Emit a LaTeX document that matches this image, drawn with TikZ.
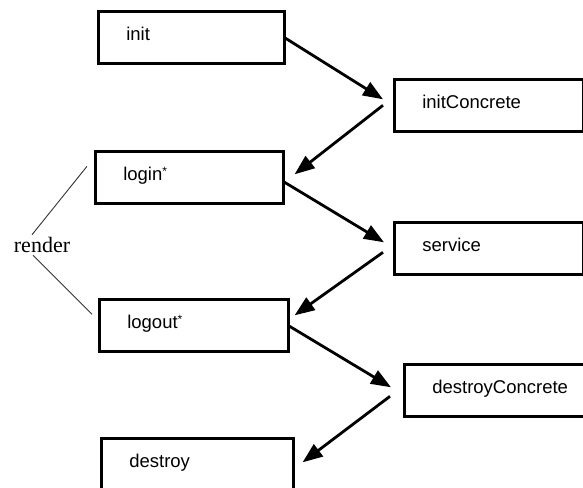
\documentclass[tikz,border=0pt]{standalone}
\usepackage{fontspec}
\setmainfont{Liberation Sans}
\newfontfamily\labelserif{Liberation Serif}
\usetikzlibrary{arrows.meta,calc}
\newcommand{\smallstar}{\raisebox{5pt}{\fontsize{12}{12}\selectfont*}}
\begin{document}
\begin{tikzpicture}[x=1pt,y=-1pt,
  box/.style={draw, line width=2.6pt, anchor=north west, align=left,
    inner xsep=28pt, inner ysep=0pt, minimum height=52pt,
    text height=12pt, text depth=6pt,
    font=\fontsize{18.5}{18.5}\selectfont},
  flow/.style={line width=2.8pt, -{Triangle[length=20pt,width=15pt]}},
  brace/.style={line width=0.9pt, draw=black!80}]
\useasboundingbox (0,0) rectangle (583,487);
% state boxes
\node[box, text width=130pt] (init) at (97,10) {init};
\node[box, text width=133pt] (initc) at (393,78) {initConcrete};
\node[box, text width=132pt] (login) at (94,150) {login\smallstar};
\node[box, text width=133pt] (service) at (393,221) {service};
\node[box, text width=133pt] (logout) at (98,298) {logout\smallstar};
\node[box, text width=124pt] (destroyc) at (403,363) {destroyConcrete};
\node[box, text width=136pt] (destroy) at (100,437) {destroy};
% transitions
\draw[flow] ($(init.east)+(0,1)$) -- ($(initc.west)+(-10,-6)$);
\draw[flow] ($(initc.west)+(-10,0)$) -- ($(login.east)+(10,-3)$);
\draw[flow] ($(login.east)+(0,5)$) -- ($(service.west)+(-9,-6)$);
\draw[flow] ($(service.west)+(-10,4)$) -- ($(logout.east)+(5,-10)$);
\draw[flow] ($(logout.east)+(0,1)$) -- ($(destroyc.west)+(-12,-3)$);
\draw[flow] ($(destroyc.west)+(-13,6)$) -- ($(destroy.east)+(8,-2)$);
% render grouping
\node[font=\labelserif\fontsize{22}{22}\selectfont] (render) at (42,245) {render};
\draw[brace] ($(render.north)+(-10,1)$) -- ($(login.west)+(-7,-11)$);
\draw[brace] ($(render.south)+(-9,-1)$) -- ($(logout.west)+(-6,-11)$);
\end{tikzpicture}
\end{document}
